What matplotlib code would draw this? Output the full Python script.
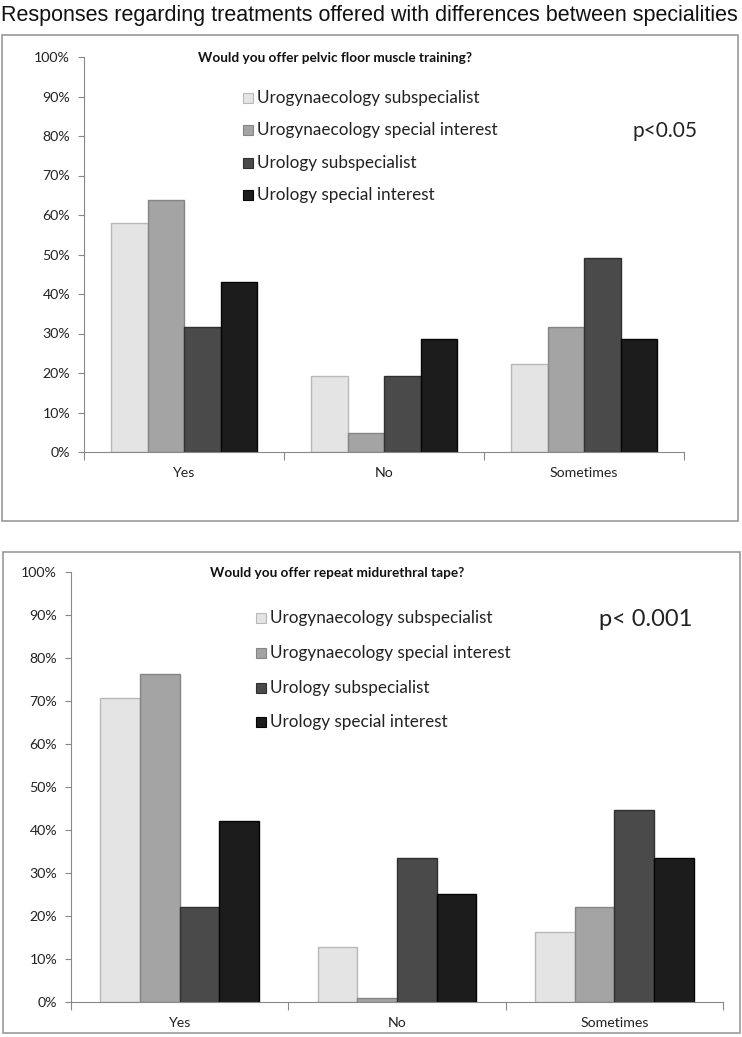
import matplotlib.pyplot as plt
from matplotlib.patches import Rectangle
from matplotlib.ticker import PercentFormatter
import numpy as np

categories = ["Yes", "No", "Sometimes"]
groups = ["Urogynaecology subspecialist", "Urogynaecology special interest",
          "Urology subspecialist", "Urology special interest"]

pfmt_values = [
    [58.0, 19.3, 22.3],   # urogynaecology subspecialist
    [63.7, 4.7, 31.7],    # urogynaecology special interest
    [31.7, 19.3, 49.0],   # urology subspecialist
    [43.0, 28.5, 28.5],   # urology special interest
]
tape_values = [
    [70.7, 12.7, 16.2],
    [76.3, 1.0, 22.1],
    [22.2, 33.6, 44.7],
    [42.0, 25.1, 33.6],
]

colors = ["#e4e4e4", "#a4a4a4", "#4a4a4a", "#1c1c1c"]
edges = ["#b8b8b8", "#858585", "#303030", "#050505"]
FONT = "Lato"

fig = plt.figure(figsize=(7.42, 10.37), dpi=100)
W, H = 742, 1037


def fx(px):
    return px / W


def fy(py):
    return 1 - py / H


fig.text(fx(1), fy(16), "Responses regarding treatments offered with differences between specialities",
         fontsize=15.5, family="Liberation Sans", va="center", ha="left", color="#111111")

# panel borders
for x0, y0, x1, y1 in [(2, 35, 738, 521), (3, 552, 740, 1033)]:
    fig.patches.append(Rectangle((fx(x0), fy(y1)), fx(x1) - fx(x0), fy(y0) - fy(y1),
                                 transform=fig.transFigure, fill=False,
                                 edgecolor="#9a9a9a", linewidth=1.2))


def draw_panel(rect, values, title, ptext, ppos, pfs, title_pos, leg_x, leg_ys):
    ax = fig.add_axes(rect)
    x = np.arange(len(categories))
    width = 0.1825
    for i, vals in enumerate(values):
        ax.bar(x + (i - 1.5) * width, np.array(vals) / 100, width,
               color=colors[i], edgecolor=edges[i], linewidth=1.0)
    ax.set_xlim(-0.5, 2.5)
    ax.set_ylim(0, 1)
    ax.yaxis.set_major_formatter(PercentFormatter(1.0, decimals=0))
    ax.set_yticks(np.arange(0, 1.01, 0.1))
    ax.set_xticks([-0.5, 0.5, 1.5, 2.5])
    ax.set_xticklabels([])
    ax.set_xticks(x, minor=True)
    ax.set_xticklabels(categories, minor=True, fontsize=10.2, family=FONT, color="#222222")
    ax.tick_params(axis="x", which="minor", length=0, pad=11)
    ax.tick_params(axis="x", which="major", length=6, color="#888888", direction="out")
    ax.tick_params(axis="y", length=4, color="#888888", labelsize=10.2, labelcolor="#222222", pad=6)
    for lab in ax.get_yticklabels():
        lab.set_family(FONT)
    for s in ["top", "right"]:
        ax.spines[s].set_visible(False)
    for s in ["left", "bottom"]:
        ax.spines[s].set_color("#888888")
    fig.text(fx(title_pos[0]), fy(title_pos[1]), title, fontsize=9.8,
             fontweight="bold", family=FONT, va="center", ha="left", color="#111111")
    for i, g in enumerate(groups):
        fig.patches.append(Rectangle((fx(leg_x), fy(leg_ys[i] + 5)), fx(10), 10 / H,
                                     transform=fig.transFigure, facecolor=colors[i],
                                     edgecolor=edges[i], linewidth=0.8))
        fig.text(fx(leg_x + 14), fy(leg_ys[i]), g, fontsize=12.3, family=FONT,
                 va="center", ha="left", color="#222222")
    fig.text(fx(ppos[0]), fy(ppos[1]), ptext, fontsize=pfs, family=FONT,
             va="center", ha="left", color="#222222")
    return ax


draw_panel([fx(84), fy(452), fx(684) - fx(84), fy(57) - fy(452)], pfmt_values,
           "Would you offer pelvic floor muscle training?", "p<0.05", (633, 131), 15.0,
           (198, 58), 243, [98, 130, 163, 195])
draw_panel([fx(71), fy(1002), fx(723) - fx(71), fy(572) - fy(1002)], tape_values,
           "Would you offer repeat midurethral tape?", "p< 0.001", (599, 620), 17.0,
           (210, 573), 256, [618, 653, 688, 722])

fig.savefig("out.png", dpi=100)
